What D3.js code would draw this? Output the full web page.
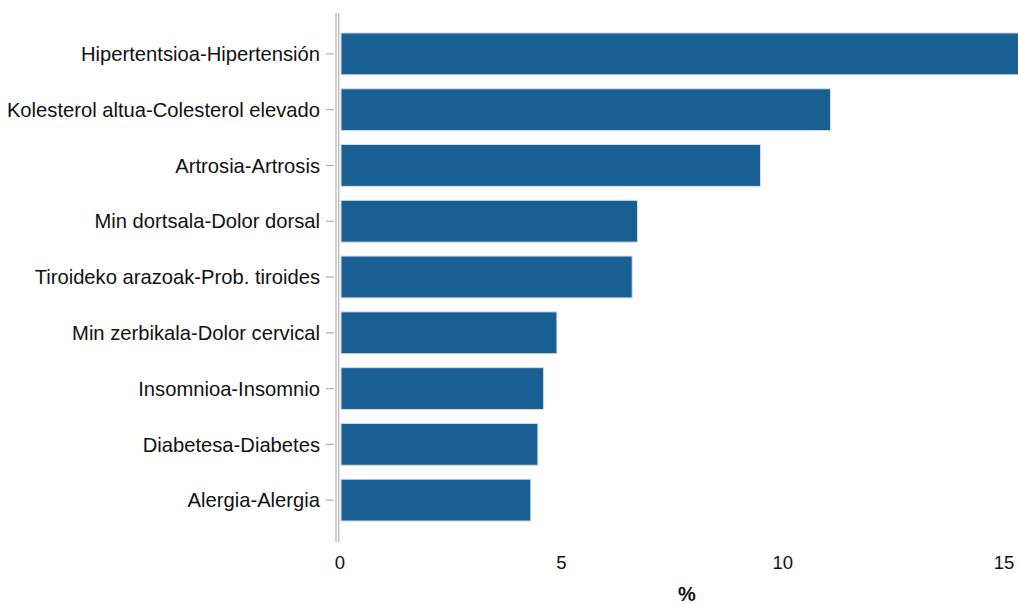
<!DOCTYPE html>
<html>
<head>
<meta charset="utf-8">
<script src="https://cdn.jsdelivr.net/npm/d3@7"></script>
<style>
  body { margin: 0; background: #fff; }
  text { font-family: "Liberation Sans", Arial, sans-serif; }
</style>
</head>
<body>
<div class="chart"></div>
<script>
// data
var categories = [
    "Hipertentsioa-Hipertensión",
    "Kolesterol altua-Colesterol elevado",
    "Artrosia-Artrosis",
    "Min dortsala-Dolor dorsal",
    "Tiroideko arazoak-Prob. tiroides",
    "Min zerbikala-Dolor cervical",
    "Insomnioa-Insomnio",
    "Diabetesa-Diabetes",
    "Alergia-Alergia"
];
var values = [15.5, 11.08, 9.5, 6.72, 6.6, 4.9, 4.6, 4.47, 4.31];
var xTicks = [0, 5, 10, 15];
var xLabel = "%";

var svgWidth = 1018;
var svgHeight = 605;

var svg = d3.select(".chart")
    .append("svg")
    .attr("width", svgWidth)
    .attr("height", svgHeight);

var xScale = d3.scaleLinear()
    .domain([0, 15])
    .range([340, 1004]);

var yScale = d3.scaleBand()
    .domain(categories)
    .range([26, 528])
    .paddingInner(0.25)
    .paddingOuter(0.125);

// bars
svg.append("g")
    .selectAll("rect")
    .data(values)
    .enter()
    .append("rect")
    .attr("x", xScale(0) + 1)
    .attr("y", (d, i) => yScale(categories[i]))
    .attr("width", d => xScale(d) - xScale(0) - 1)
    .attr("height", yScale.bandwidth())
    .attr("fill", "#185f93")
    .attr("stroke", "#d8dde3")
    .attr("stroke-width", 1);

// left axis: double grey line
[336, 338.7].forEach(function(x) {
    svg.append("line")
        .attr("x1", x).attr("x2", x)
        .attr("y1", 13).attr("y2", 542)
        .attr("stroke", "#bdbdbd")
        .attr("stroke-width", 1.4);
});

// y ticks and labels
var yAxis = svg.append("g");
categories.forEach(function(c) {
    var cy = yScale(c) + yScale.bandwidth() / 2;
    yAxis.append("line")
        .attr("x1", 326).attr("x2", 334)
        .attr("y1", cy).attr("y2", cy)
        .attr("stroke", "#b0b0b0")
        .attr("stroke-width", 1.2);
    yAxis.append("text")
        .attr("x", 320)
        .attr("y", cy)
        .attr("dy", "0.36em")
        .attr("text-anchor", "end")
        .attr("font-size", 20.2)
        .attr("fill", "#111")
        .text(c);
});

// x tick labels
svg.append("g")
    .selectAll("text")
    .data(xTicks)
    .enter()
    .append("text")
    .attr("x", d => xScale(d))
    .attr("y", 569)
    .attr("text-anchor", "middle")
    .attr("font-size", 18.5)
    .attr("fill", "#111")
    .text(d => d);

svg.append("text")
    .attr("x", 687)
    .attr("y", 601)
    .attr("text-anchor", "middle")
    .attr("font-size", 20)
    .attr("font-weight", "bold")
    .attr("fill", "#111")
    .text(xLabel);
</script>
</body>
</html>
